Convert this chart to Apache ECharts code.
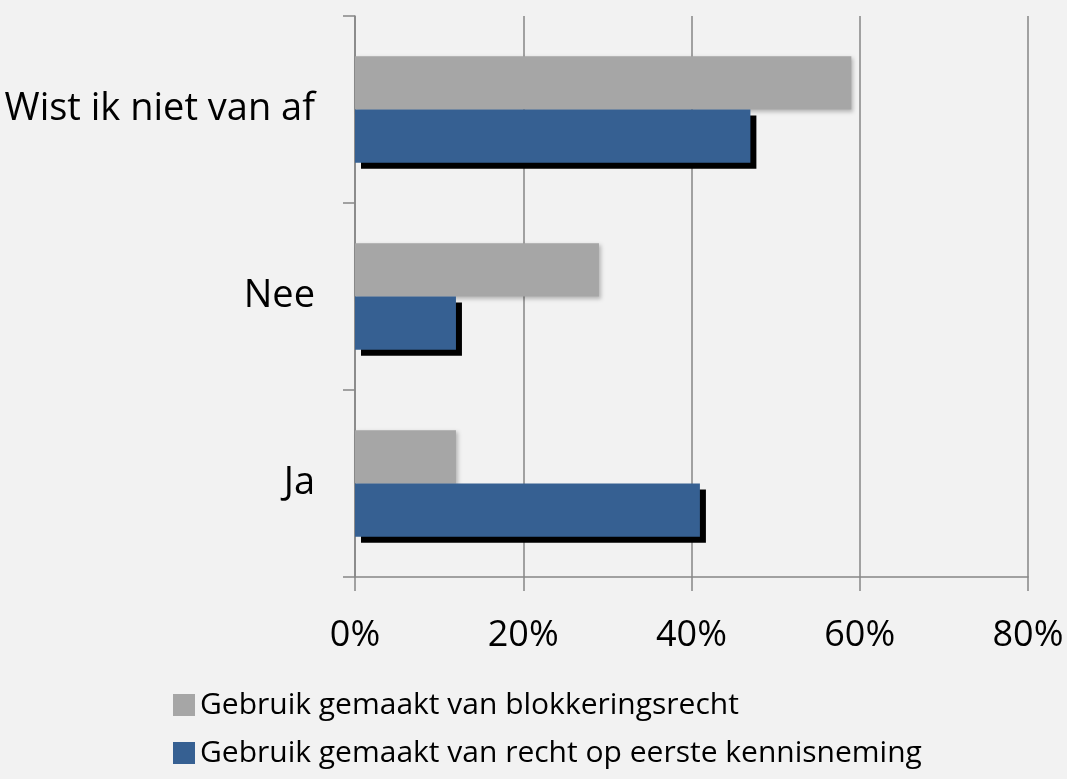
<!DOCTYPE html>
<html><head><meta charset="utf-8">
<script src="https://cdn.jsdelivr.net/npm/echarts@6/dist/echarts.min.js"></script>
<style>html,body{margin:0;padding:0;background:#f2f2f2}#c{width:1067px;height:779px}</style>
</head><body><div id="c"></div>
<script>
const categories = ['Ja', 'Nee', 'Wist ik niet van af'];
const seriesNames = ['Gebruik gemaakt van blokkeringsrecht', 'Gebruik gemaakt van recht op eerste kennisneming'];
const blokkering = [12, 29, 59];
const kennisneming = [41, 12, 47];
const xTicks = [0, 20, 40, 60, 80];

const chart = echarts.init(document.getElementById('c'));
const font = '"Open Sans", sans-serif';
chart.setOption({
  backgroundColor: '#f2f2f2',
  animation: false,
  grid: { left: 355, right: 39, top: 16, bottom: 202 },
  legend: {
    data: seriesNames,
    orient: 'vertical',
    left: 168, top: 685,
    itemWidth: 22, itemHeight: 22, itemGap: 18,
    icon: 'rect',
    textStyle: { fontFamily: font, fontSize: 30, color: '#000', padding: [0,0,0,0] }
  },
  xAxis: {
    type: 'value', min: xTicks[0], max: xTicks[xTicks.length-1], interval: 20,
    axisLine: { show: true, lineStyle: { color: '#868686', width: 1.5 } },
    axisTick: { show: true, length: 14, lineStyle: { color: '#868686', width: 1.5 } },
    splitLine: { show: true, lineStyle: { color: '#868686', width: 1.5 } },
    axisLabel: { formatter: v => v + '%', fontFamily: font, fontSize: 36, color: '#000', margin: 41 }
  },
  yAxis: {
    type: 'category', data: categories,
    axisLine: { show: true, lineStyle: { color: '#868686', width: 1.5 } },
    axisTick: { show: true, length: 12, inside: false, lineStyle: { color: '#868686', width: 1.5 } },
    axisLabel: { fontFamily: font, fontSize: 38, color: '#000', margin: 40 }
  },
  series: [
    { name: seriesNames[0], type: 'bar', data: blokkering, barGap: '0%', barCategoryGap: '43%',
      itemStyle: { color: '#a6a6a6', shadowColor: 'rgba(0,0,0,0.25)', shadowOffsetX: 2, shadowOffsetY: 2, shadowBlur: 4 } },
    { name: seriesNames[1], type: 'bar', data: kennisneming, barGap: '0%', barCategoryGap: '43%',
      itemStyle: { color: '#366092', shadowColor: '#000', shadowOffsetX: 6, shadowOffsetY: 6, shadowBlur: 0 } }
  ]
});
</script></body></html>
